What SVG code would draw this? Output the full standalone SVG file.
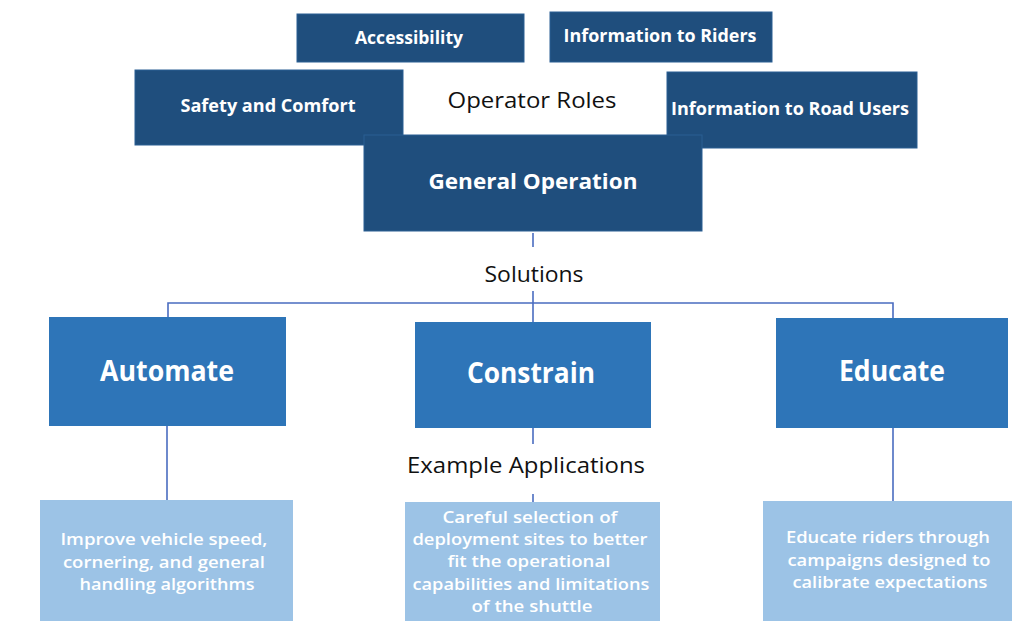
<svg xmlns="http://www.w3.org/2000/svg" width="1012" height="621" viewBox="0 0 1012 621">
<style>
.dark{fill:#1f4e7d;stroke:#2a5f93;stroke-width:1}
.mid{fill:#2e75b8}
.light{fill:#9cc3e6}
.t{font-family:"Open Sans","Liberation Sans",sans-serif;text-anchor:middle}
.tw{fill:#ffffff;font-weight:bold}
.tb{fill:#111111}
.tl{fill:#ffffff;font-weight:600}
.ln{stroke:#4a6cc0;stroke-width:1.6;fill:none}
</style>
<rect width="1012" height="621" fill="#ffffff"/>
<g id="connectors">
<line class="ln" x1="533" y1="233" x2="533" y2="247"/>
<line class="ln" x1="533" y1="291" x2="533" y2="322"/>
<polyline class="ln" points="168,317 168,303 893,303 893,318"/>
<line class="ln" x1="533" y1="428" x2="533" y2="444"/>
<line class="ln" x1="533" y1="494" x2="533" y2="502"/>
<line class="ln" x1="167" y1="426" x2="167" y2="500"/>
<line class="ln" x1="893" y1="428" x2="893" y2="501"/>
</g>
<g id="operator-roles">
<text class="t tb" x="532" y="108" font-size="22" textLength="169" lengthAdjust="spacingAndGlyphs">Operator Roles</text>
</g>
<g id="accessibility">
<rect class="dark" x="297" y="14" width="227" height="48"/>
<text class="t tw" x="409" y="44" font-size="17" textLength="108" lengthAdjust="spacingAndGlyphs">Accessibility</text>
</g>
<g id="info-riders">
<rect class="dark" x="550" y="12" width="222" height="50"/>
<text class="t tw" x="660" y="42" font-size="17" textLength="193" lengthAdjust="spacingAndGlyphs">Information to Riders</text>
</g>
<g id="safety">
<rect class="dark" x="135" y="70" width="268" height="75"/>
<text class="t tw" x="268" y="112" font-size="17" textLength="175" lengthAdjust="spacingAndGlyphs">Safety and Comfort</text>
</g>
<g id="info-road">
<rect class="dark" x="667" y="72" width="250" height="76"/>
<text class="t tw" x="790" y="115" font-size="17" textLength="238" lengthAdjust="spacingAndGlyphs">Information to Road Users</text>
</g>
<g id="general-operation">
<rect class="dark" x="364" y="135" width="338" height="96"/>
<text class="t tw" x="533" y="189" font-size="22" textLength="209" lengthAdjust="spacingAndGlyphs">General Operation</text>
</g>
<g id="solutions">
<text class="t tb" x="534" y="282" font-size="21" textLength="99" lengthAdjust="spacingAndGlyphs">Solutions</text>
</g>
<g id="automate">
<rect class="mid" x="49" y="317" width="237" height="109"/>
<text class="t tw" x="167" y="381" font-size="28" font-weight="600" textLength="134" lengthAdjust="spacingAndGlyphs">Automate</text>
</g>
<g id="constrain">
<rect class="mid" x="415" y="322" width="236" height="106"/>
<text class="t tw" x="531" y="383" font-size="28" textLength="128" lengthAdjust="spacingAndGlyphs">Constrain</text>
</g>
<g id="educate">
<rect class="mid" x="776" y="318" width="232" height="110"/>
<text class="t tw" x="892" y="381" font-size="28" textLength="106" lengthAdjust="spacingAndGlyphs">Educate</text>
</g>
<g id="example-applications">
<text class="t tb" x="526" y="473" font-size="21" textLength="238" lengthAdjust="spacingAndGlyphs">Example Applications</text>
</g>
<g id="app-automate">
<rect class="light" x="40" y="500" width="253" height="121"/>
<text class="t tl" font-size="16">
<tspan x="166" y="545" textLength="207" lengthAdjust="spacingAndGlyphs">Improve vehicle speed,</tspan>
<tspan x="166" y="568" textLength="202" lengthAdjust="spacingAndGlyphs">cornering, and general</tspan>
<tspan x="167" y="590" textLength="175" lengthAdjust="spacingAndGlyphs">handling algorithms</tspan>
</text>
</g>
<g id="app-constrain">
<rect class="light" x="405" y="502" width="255" height="119"/>
<text class="t tl" font-size="16">
<tspan x="532" y="523" textLength="175" lengthAdjust="spacingAndGlyphs">Careful selection of</tspan>
<tspan x="532" y="545" textLength="235" lengthAdjust="spacingAndGlyphs">deployment sites to better</tspan>
<tspan x="531" y="567" textLength="163" lengthAdjust="spacingAndGlyphs">fit the operational</tspan>
<tspan x="533" y="590" textLength="237" lengthAdjust="spacingAndGlyphs">capabilities and limitations</tspan>
<tspan x="532" y="612" textLength="121" lengthAdjust="spacingAndGlyphs">of the shuttle</tspan>
</text>
</g>
<g id="app-educate">
<rect class="light" x="763" y="501" width="249" height="120"/>
<text class="t tl" font-size="16">
<tspan x="890" y="543" textLength="204" lengthAdjust="spacingAndGlyphs">Educate riders through</tspan>
<tspan x="891" y="566" textLength="203" lengthAdjust="spacingAndGlyphs">campaigns designed to</tspan>
<tspan x="890" y="588" textLength="195" lengthAdjust="spacingAndGlyphs">calibrate expectations</tspan>
</text>
</g>
</svg>
